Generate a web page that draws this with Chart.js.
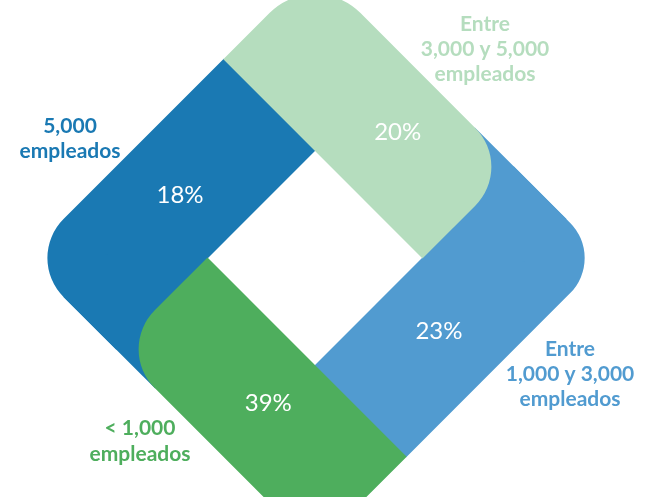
<!DOCTYPE html>
<html>
<head>
<meta charset="utf-8">
<script src="https://cdn.jsdelivr.net/npm/chart.js@4.4.1/dist/chart.umd.min.js"></script>
<style>
  html, body { margin: 0; padding: 0; background: #ffffff; overflow: hidden; }
  canvas { display: block; }
</style>
</head>
<body>
<canvas id="diamond" width="654" height="497"></canvas>
<script>
// Company size groups, share of companies (%), and colours
const categories = [
    ["5,000", "empleados"],
    ["Entre", "3,000 y 5,000", "empleados"],
    ["Entre", "1,000 y 3,000", "empleados"],
    ["< 1,000", "empleados"],
];
const shares = [18, 20, 23, 39];
const colors = ["#1a79b3", "#b5ddbe", "#519bd0", "#4eae5d"];

// Layout of the pinwheel (in scale units, 1 unit = 1px)
const OUTER = 205;
const INNER = 76;
const MID = (OUTER + INNER) / 2;
const TUCK = 60; // how far an arm runs on under the rounded end of the next one

// corner radii of each arm, in the un-rotated frame
const radii = [
    { bottomLeft: 55 },
    { topLeft: 64, topRight: 55 },
    { topRight: 50 },
    { bottomLeft: 55, bottomRight: 64 },
];

// screen offsets of the % labels from each arm centre
const pctOffset = [[10, -10], [29, 18], [-21, 19], [7, -1]];

// category label anchors: centre x and baselines
const catLabels = [
    { x: 70, y: [133, 158] },
    { x: 485, y: [31, 56, 81] },
    { x: 570, y: [356, 381, 406] },
    { x: 140, y: [435, 461] },
];

// arm i: even = vertical (lies under), odd = horizontal (lies on top)
function armData(i) {
    const sign = i === 0 || i === 3 ? -1 : 1;
    const range = i < 2 ? [-OUTER, INNER] : [-INNER, OUTER];
    if (i % 2 === 1) return [{ y: sign * MID, x: range }];
    // vertical arms also fill the corner tucked under the next arm's rounded end
    const tuck = i === 0 ? [-OUTER, -OUTER + TUCK] : [OUTER - TUCK, OUTER];
    return [
        { x: sign * MID, y: range },
        { x: sign * (MID - TUCK + 5), y: tuck },
    ];
}

const datasets = categories.map((c, i) => ({
    label: c.join(" "),
    data: armData(i),
    indexAxis: i % 2 === 0 ? "x" : "y",
    backgroundColor: colors[i],
    borderWidth: 0,
    borderSkipped: false,
    borderRadius: (ctx) => (ctx.dataIndex === 0 ? radii[i] : 0),
    barThickness: OUTER - INNER,
    grouped: false,
    clip: false,
    order: i % 2 === 0 ? 2 : 1,
}));

// rotate the bars by 45 degrees around the chart centre
const rotatePlugin = {
    id: "rotate",
    beforeDatasetsDraw(chart) {
        const { ctx, chartArea } = chart;
        const cx = (chartArea.left + chartArea.right) / 2;
        const cy = (chartArea.top + chartArea.bottom) / 2;
        ctx.save();
        ctx.translate(cx, cy);
        ctx.rotate(Math.PI / 4);
        ctx.translate(-cx, -cy);
    },
    afterDatasetsDraw(chart) {
        chart.ctx.restore();
    },
};

const labelPlugin = {
    id: "labels",
    afterDraw(chart) {
        const { ctx, chartArea } = chart;
        const cx = (chartArea.left + chartArea.right) / 2;
        const cy = (chartArea.top + chartArea.bottom) / 2;
        const c = Math.cos(Math.PI / 4);
        ctx.save();
        ctx.textAlign = "center";
        ctx.textBaseline = "alphabetic";
        chart.data.datasets.forEach((ds, i) => {
            const bar = chart.getDatasetMeta(i).data[0];
            const p = bar.getCenterPoint();
            const dx = p.x - cx, dy = p.y - cy;
            const sx = cx + (dx - dy) * c + pctOffset[i][0];
            const sy = cy + (dx + dy) * c + pctOffset[i][1];
            ctx.fillStyle = "#ffffff";
            ctx.font = "24px Lato";
            ctx.fillText(shares[i] + "%", sx, sy + 8.6);

            ctx.fillStyle = colors[i];
            ctx.font = "bold 21px Lato";
            categories[i].forEach((line, j) => {
                ctx.fillText(line, catLabels[i].x, catLabels[i].y[j]);
            });
        });
        ctx.restore();
    },
};

new Chart(document.getElementById("diamond").getContext("2d"), {
    type: "bar",
    data: { datasets },
    options: {
        responsive: false,
        animation: false,
        events: [],
        layout: { padding: { left: 110, right: 134, top: 53, bottom: 34 } },
        scales: {
            x: { type: "linear", min: -OUTER, max: OUTER, offset: false, display: false },
            y: { type: "linear", min: -OUTER, max: OUTER, offset: false, display: false },
        },
        plugins: {
            legend: { display: false },
            tooltip: { enabled: false },
        },
    },
    plugins: [rotatePlugin, labelPlugin],
});
</script>
</body>
</html>
